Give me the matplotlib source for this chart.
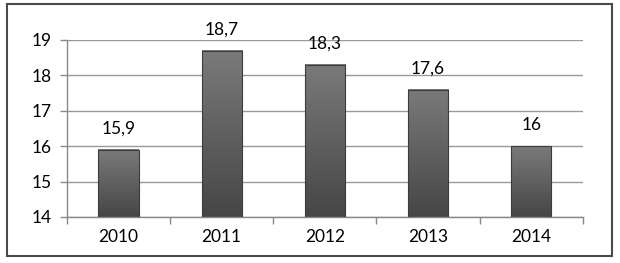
import numpy as np
import matplotlib
matplotlib.use('Agg')
from matplotlib import pyplot as plt
from matplotlib.patches import Rectangle

years = ['2010', '2011', '2012', '2013', '2014']
values = [15.9, 18.7, 18.3, 17.6, 16.0]
labels = ['15,9', '18,7', '18,3', '17,6', '16']
yticks = [14, 15, 16, 17, 18, 19]

plt.rcParams['font.family'] = ['Lato', 'DejaVu Sans']
fs = 12.5

fig = plt.figure(figsize=(6.2, 2.63), dpi=100)
ax = fig.add_axes([0.108, 0.175, 0.832, 0.673])

x = np.arange(len(years))
bars = ax.bar(x, [v - 14 for v in values], bottom=14, width=0.39,
              color='none', edgecolor='#3c3c3c', linewidth=0.8, zorder=3)

# вертикальный градиент на каждом столбике
grad = np.linspace(0, 1, 256).reshape(-1, 1)
for b in bars:
    x0, y0 = b.get_x(), b.get_y()
    ax.imshow(grad, cmap=matplotlib.colors.LinearSegmentedColormap.from_list(
        'g', ['#7a7a7a', '#464646']), aspect='auto', origin='upper',
        extent=(x0, x0 + b.get_width(), y0, y0 + b.get_height()), zorder=2)

for xi, v, lab in zip(x, values, labels):
    ax.annotate(lab, (xi, v), xytext=(0, 15), textcoords='offset points',
                ha='center', va='center', fontsize=fs, color='#000000')

ax.set_xlim(-0.5, len(years) - 0.5)
ax.set_ylim(14, 19)
ax.set_yticks(yticks)
ax.set_yticklabels([str(t) for t in yticks], fontsize=fs, color='#000000')
ax.set_xticks(x)
ax.set_xticklabels(years, fontsize=fs, color='#000000')
ax.tick_params(axis='x', length=0, pad=9)
ax.tick_params(axis='y', length=5, color='#888888', width=1, pad=6)
# риски между категориями
ax.set_xticks(np.arange(-0.5, len(years)), minor=True)
ax.tick_params(axis='x', which='minor', length=5, color='#888888', width=1)

ax.grid(axis='y', color='#999999', linewidth=1, zorder=0)
for s in ['top', 'right']:
    ax.spines[s].set_visible(False)
ax.spines['left'].set_color('#888888')
ax.spines['bottom'].set_color('#888888')
ax.spines['left'].set_linewidth(1)
ax.spines['bottom'].set_linewidth(1)

fig.patches.append(Rectangle((0.011, 0.025), 0.976, 0.958, transform=fig.transFigure,
                             fill=False, edgecolor='#4a4a4a', linewidth=1.5))

fig.savefig('out.png', dpi=100)
